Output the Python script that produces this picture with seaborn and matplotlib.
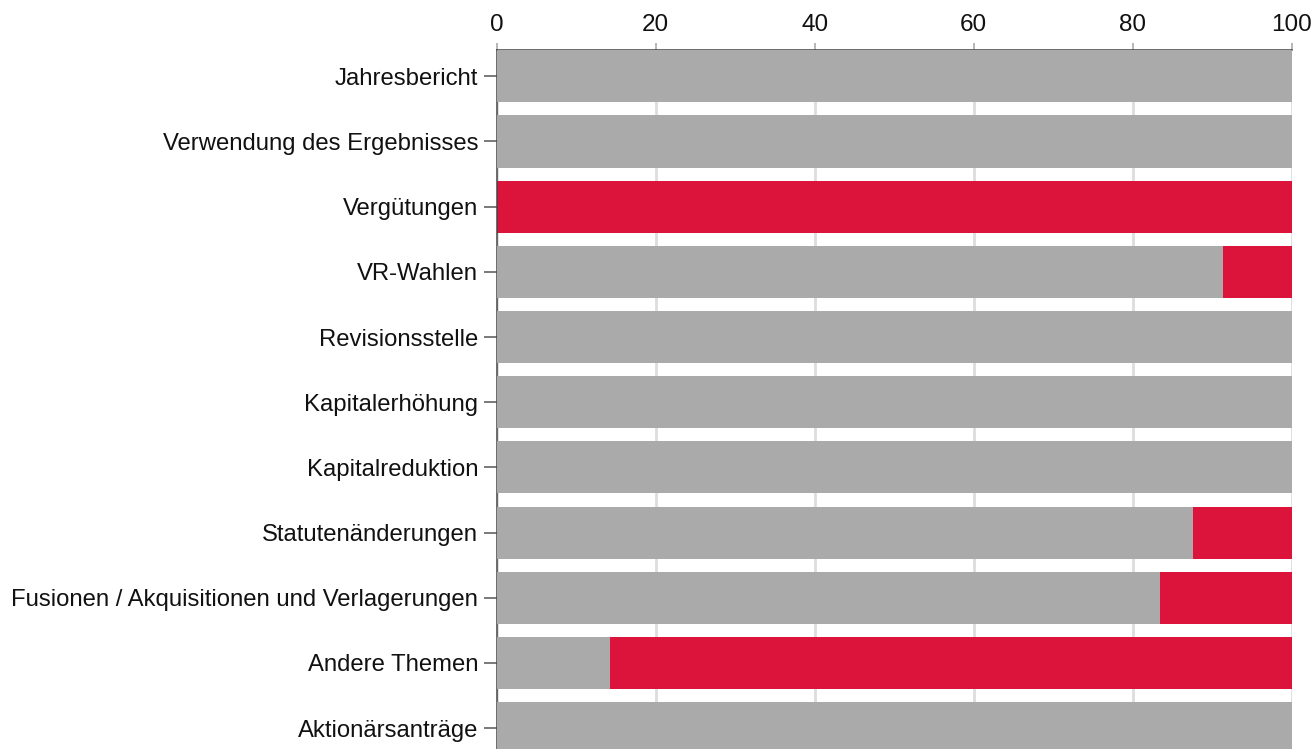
import matplotlib
matplotlib.use("Agg")
import matplotlib.pyplot as plt
import seaborn as sns
import pandas as pd

categories = ["Jahresbericht", "Verwendung des Ergebnisses", "Vergütungen", "VR-Wahlen",
              "Revisionsstelle", "Kapitalerhöhung", "Kapitalreduktion", "Statutenänderungen",
              "Fusionen / Akquisitionen und Verlagerungen", "Andere Themen", "Aktionärsanträge"]
approve = [100, 100, 0, 91.4, 100, 100, 100, 87.6, 83.4, 14.3, 100]
reject = [0, 0, 100, 8.6, 0, 0, 0, 12.4, 16.6, 85.7, 0]
xticks = [0, 20, 40, 60, 80, 100]

GRAY = "#aaaaaa"
RED = "#dc143c"

sns.set_theme(style="white")
plt.rcParams['font.family'] = ['Liberation Sans', 'DejaVu Sans']

df = pd.DataFrame({"cat": categories, "approve": approve, "reject": reject})
df["total"] = df["approve"] + df["reject"]

fig = plt.figure(figsize=(13.14, 7.49), dpi=100)
ax = fig.add_axes([0.378, 0.0, 0.605, 0.933])

sns.barplot(data=df, x="total", y="cat", color=RED, saturation=1, width=0.8,
            edgecolor="none", linewidth=0, ax=ax, zorder=2)
sns.barplot(data=df, x="approve", y="cat", color=GRAY, saturation=1, width=0.8,
            edgecolor="none", linewidth=0, ax=ax, zorder=3)

ax.set_xlim(0, 100)
ax.set_ylim(10.32, -0.4)
ax.set_xticks(xticks)
ax.set_xlabel("")
ax.set_ylabel("")
ax.xaxis.tick_top()
ax.xaxis.set_label_position("top")
ax.grid(axis="x", color="#dddddd", linewidth=2, zorder=0)
ax.set_axisbelow(True)
for s in ["right", "bottom"]:
    ax.spines[s].set_visible(False)
for s in ["left", "top"]:
    ax.spines[s].set_color("#444444")
    ax.spines[s].set_linewidth(1.1)
ax.tick_params(axis="x", which="both", top=True, length=5, width=1.2, color="#aaaaaa",
               labelsize=17.5, pad=5, labelcolor="#111111")
ax.tick_params(axis="y", left=True, length=9.4, width=1.1, color="#555555",
               labelsize=17.2, pad=4, labelcolor="#111111")

fig.savefig("out.png", dpi=100)
